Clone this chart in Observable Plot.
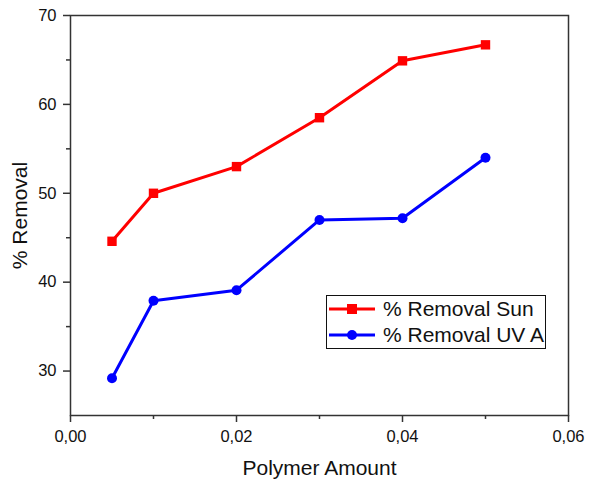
<!DOCTYPE html>
<html>
<head>
<meta charset="utf-8">
<script src="https://cdn.jsdelivr.net/npm/d3@7"></script>
<script src="https://cdn.jsdelivr.net/npm/@observablehq/plot@0.6"></script>
<style>
  html, body { margin: 0; padding: 0; background: #fff; }
  #wrap { position: relative; width: 595px; height: 480px; font-family: "Liberation Sans", Arial, sans-serif; }
  #wrap svg { font-family: "Liberation Sans", Arial, sans-serif; color: #111; }
  #wrap svg g[aria-label="x-axis label"], #wrap svg g[aria-label="y-axis label"] { font-size: 21px; }
  #legend { position: absolute; left: 326px; top: 295px; width: 218px; height: 52px;
    border: 1.3px solid #111; background: #fff; box-sizing: content-box;
    font-family: "Liberation Sans", Arial, sans-serif; }
  .row { position: absolute; left: 0; height: 26px; display: flex; align-items: center; font-size: 21px; color: #111; white-space: nowrap; }
  .row svg { display: block; margin-left: 2px; margin-right: 8px; }
</style>
</head>
<body>
<div id="wrap"></div>
<script>
const polymer = [0.005, 0.01, 0.02, 0.03, 0.04, 0.05];
const removalSun = [44.6, 50.0, 53.0, 58.5, 64.9, 66.7];
const removalUVA = [29.2, 37.9, 39.1, 47.0, 47.2, 54.0];
const seriesNames = ["% Removal Sun", "% Removal UV A"];
const xMajor = [0, 0.02, 0.04, 0.06];
const xMinor = [0.01, 0.03, 0.05];
const yMajor = [30, 40, 50, 60, 70];
const yMinor = [35, 45, 55, 65];

const sunData = polymer.map((x, i) => ({x, y: removalSun[i]}));
const uvaData = polymer.map((x, i) => ({x, y: removalUVA[i]}));
const comma = d => d3.format(".2f")(d).replace(".", ",");
const axisColor = "#333";

const chart = Plot.plot({
  width: 595,
  height: 480,
  marginLeft: 70,
  marginRight: 27,
  marginTop: 15,
  marginBottom: 65,
  x: {domain: [0, 0.06]},
  y: {domain: [25, 70]},
  marks: [
    Plot.frame({stroke: axisColor, strokeWidth: 1.5}),
    Plot.axisX({ticks: xMajor, tickFormat: comma, tickSize: 7, tickPadding: 8, fontSize: 16.5, stroke: axisColor, strokeWidth: 1.5,
      label: "Polymer Amount", labelAnchor: "center", labelArrow: "none", labelOffset: 59}),
    Plot.axisX({ticks: xMinor, tickSize: 4, text: null, label: null, stroke: axisColor, strokeWidth: 1.5}),
    Plot.axisY({ticks: yMajor, tickSize: 7, tickPadding: 7, fontSize: 16.5, stroke: axisColor, strokeWidth: 1.5,
      label: "% Removal", labelAnchor: "center", labelArrow: "none", labelOffset: 58}),
    Plot.axisY({ticks: yMinor, tickSize: 4, text: null, label: null, stroke: axisColor, strokeWidth: 1.5}),
    Plot.line(sunData, {x: "x", y: "y", stroke: "#ff0000", strokeWidth: 3}),
    Plot.dot(sunData, {x: "x", y: "y", symbol: "square", fill: "#ff0000", r: 5.3}),
    Plot.line(uvaData, {x: "x", y: "y", stroke: "#0000ff", strokeWidth: 3}),
    Plot.dot(uvaData, {x: "x", y: "y", symbol: "circle", fill: "#0000ff", r: 5})
  ]
});
document.getElementById("wrap").appendChild(chart);

// legend
const legend = document.createElement("div");
legend.id = "legend";
const colors = ["#ff0000", "#0000ff"];
seriesNames.forEach((name, i) => {
  const row = document.createElement("div");
  row.className = "row";
  row.style.top = (i * 26) + "px";
  const marker = i === 0
    ? `<rect x="18" y="6" width="10" height="10" fill="${colors[i]}"/>`
    : `<circle cx="23" cy="11" r="5" fill="${colors[i]}"/>`;
  row.innerHTML = `<svg width="46" height="22"><line x1="0" x2="46" y1="11" y2="11" stroke="${colors[i]}" stroke-width="3"/>${marker}</svg><span>${name}</span>`;
  legend.appendChild(row);
});
document.getElementById("wrap").appendChild(legend);
</script>
</body>
</html>
